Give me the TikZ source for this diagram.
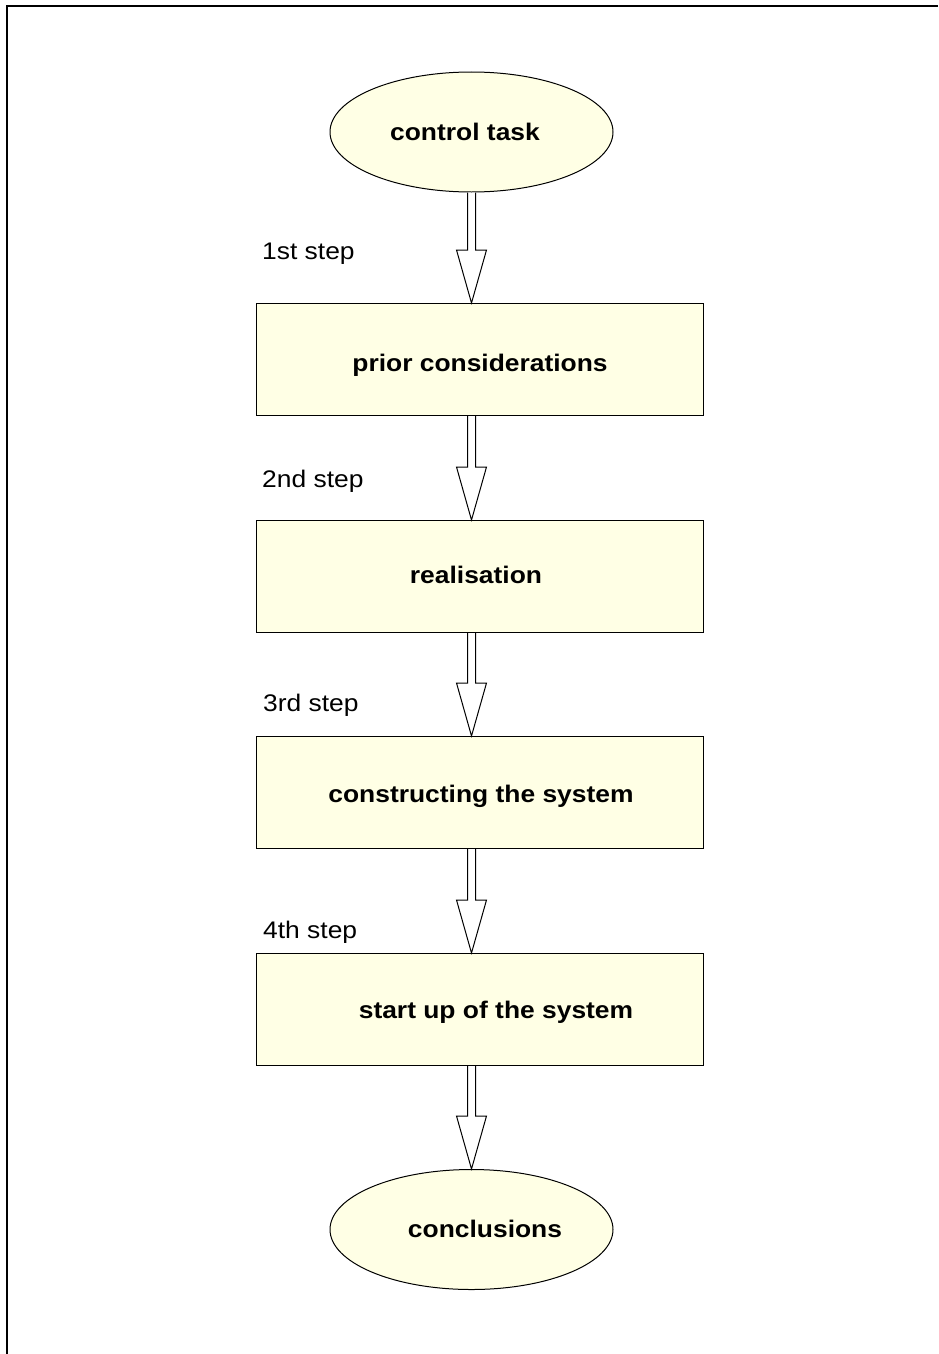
\documentclass[tikz,border=0pt]{standalone}
\usepackage{fontspec}
\setmainfont{Liberation Sans}[FakeStretch=1.1]
\usetikzlibrary{shapes.geometric,calc}
\definecolor{boxfill}{RGB}{255,255,229}
\tikzset{
  stepbox/.style={draw=black, line width=1pt, fill=boxfill, minimum width=447pt, minimum height=112pt, inner sep=0pt},
  terminal/.style={draw=black, line width=1pt, fill=boxfill, ellipse, minimum width=283pt, minimum height=120pt, inner sep=0pt},
  boldtext/.style={font=\fontsize{24pt}{28pt}\selectfont\bfseries, inner sep=0pt, anchor=base},
  steptext/.style={font=\fontsize{24pt}{28pt}\selectfont, inner sep=0pt, anchor=base west},
  arrowline/.style={draw=black, line width=1pt, fill=white, line join=miter},
  frameline/.style={draw=black, line width=2pt}
}
\newcommand\hollowarrow[2]{%
  \draw[arrowline] let \p1=(ct.south), \p2=(#1.south), \p3=(#2.north) in
    (\x1-4pt,\y2) -- (\x1-4pt,\y3+53pt) -- (\x1-15pt,\y3+53pt) -- (\x1,\y3)
    -- (\x1+15pt,\y3+53pt) -- (\x1+4pt,\y3+53pt) -- (\x1+4pt,\y2);
}
\begin{document}
\begin{tikzpicture}[x=1pt,y=-1pt]
\useasboundingbox (0,0) rectangle (938,1354);
\coordinate (fTL) at (7,6);
\coordinate (fTR) at (938,6);
\coordinate (fBL) at (7,1354);
\draw[frameline] (fTR) -- (fTL) -- (fBL);

\node[terminal] (ct) at (471.5,132) {};
\node[stepbox] (b1) at (479.5,359.5) {};
\node[stepbox] (b2) at (479.5,576.5) {};
\node[stepbox] (b3) at (479.5,792.5) {};
\node[stepbox] (b4) at (479.5,1009.5) {};
\node[terminal] (cc) at (471.5,1229.5) {};

\hollowarrow{ct}{b1}
\hollowarrow{b1}{b2}
\hollowarrow{b2}{b3}
\hollowarrow{b3}{b4}
\hollowarrow{b4}{cc}

\node[boldtext] (tct) at (465,140) {control task};
\node[boldtext] (tb1) at (480,371) {prior considerations};
\node[boldtext] (tb2) at (476,583) {realisation};
\node[boldtext] (tb3) at (481,802) {constructing the system};
\node[boldtext] (tb4) at (496,1018) {start up of the system};
\node[boldtext] (tcc) at (485,1237) {conclusions};

\node[steptext] (s1) at (262,259) {1st step};
\node[steptext] (s2) at (262,487) {2nd step};
\node[steptext] (s3) at (263,711) {3rd step};
\node[steptext] (s4) at (263,938) {4th step};
\end{tikzpicture}
\end{document}
